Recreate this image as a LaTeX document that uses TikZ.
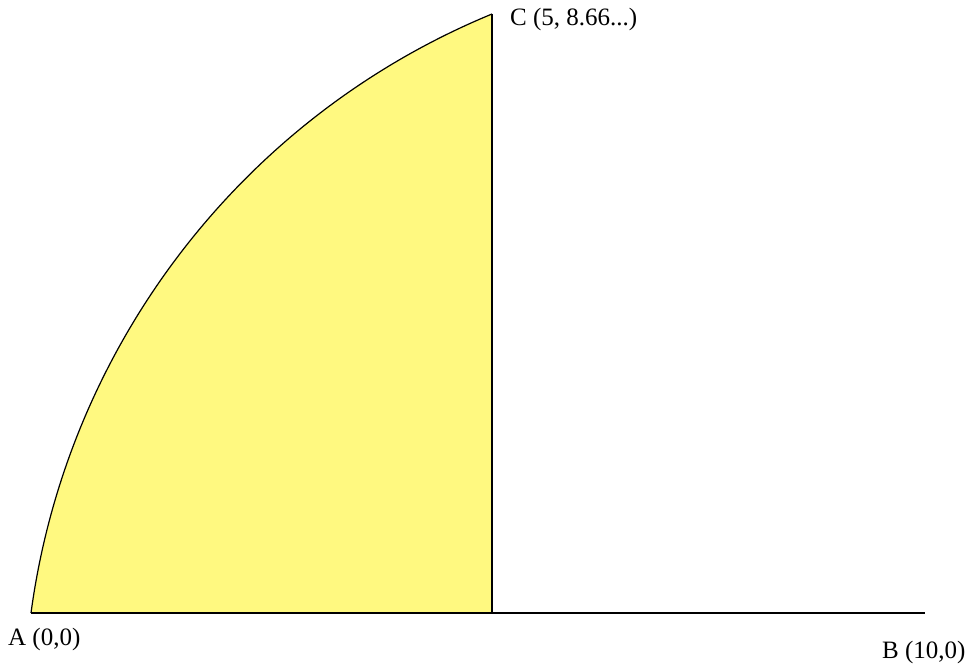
\documentclass[tikz,border=0pt]{standalone}
\usepackage{fontspec}
\setmainfont{Liberation Serif}
\definecolor{fillc}{RGB}{255,249,128}
\begin{document}
\begin{tikzpicture}[x=1pt,y=-1pt,
  edge/.style={draw=black,line width=1.2pt},
  lbl/.style={inner sep=0pt,anchor=base west,font=\fontsize{25}{30}\selectfont}]
\useasboundingbox (0,0) rectangle (972,665);
\coordinate (A) at (31,613);
\coordinate (B) at (925,613);
\coordinate (C) at (492,14);
\coordinate (D) at (492,613);
\fill[fillc] (A) .. controls (67,346) and (242,117) .. (C) -- (D) -- cycle;
\draw[edge] (A) .. controls (67,346) and (242,117) .. (C);
\draw[edge] (A) -- (B);
\draw[edge] (C) -- (D);
\node[lbl] (la) at (8,645) {A (0,0)};
\node[lbl] (lb) at (882,658) {B (10,0)};
\node[lbl] (lc) at (510,25) {C (5, 8.66...)};
\end{tikzpicture}
\end{document}
